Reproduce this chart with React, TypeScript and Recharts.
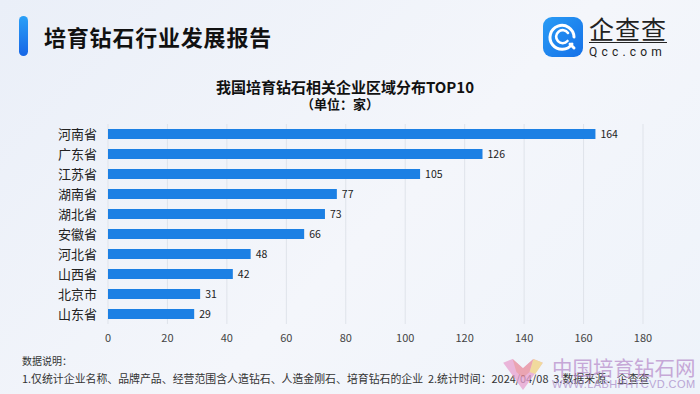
import { useEffect } from "react";
import { Bar, BarChart, CartesianGrid, LabelList, XAxis, YAxis } from "recharts";

const provinces = ["河南省", "广东省", "江苏省", "湖南省", "湖北省", "安徽省", "河北省", "山西省", "北京市", "山东省"];
const counts = [164, 126, 105, 77, 73, 66, 48, 42, 31, 29];
const xTicks = [0, 20, 40, 60, 80, 100, 120, 140, 160, 180];

const FONT = '"Noto Sans CJK SC", "Noto Sans", sans-serif';
const BAR_COLOR = "#1c80e4";

function Logo() {
  return (
    <div style={{ position: "absolute", left: 543, top: 16, display: "flex", alignItems: "center" }}>
      <svg width={40} height={40} viewBox="0 0 40 40">
        <defs>
          <linearGradient id="lg" x1="0" y1="0" x2="1" y2="1">
            <stop offset="0%" stopColor="#2a9cf5" />
            <stop offset="100%" stopColor="#1470e8" />
          </linearGradient>
        </defs>
        <rect x={0} y={0} width={40} height={40} rx={9} fill="url(#lg)" />
        <path d="M29 27 A12 12 0 1 1 31 20" fill="none" stroke="#fff" strokeWidth={3} strokeLinecap="round" />
        <path d="M24.5 24 A6.5 6.5 0 1 1 25 16" fill="none" stroke="#fff" strokeWidth={2.6} strokeLinecap="round" />
        <path d="M27 27 L31 31" stroke="#fff" strokeWidth={3} strokeLinecap="round" />
      </svg>
      <div style={{ marginLeft: 6, fontFamily: FONT, color: "#222", lineHeight: 1 }}>
        <div style={{ fontSize: 25, letterSpacing: 1, borderBottom: "1.5px solid #222", paddingBottom: 1 }}>企查查</div>
        <div style={{ fontSize: 12, letterSpacing: 4.2, marginTop: 3, fontFamily: "Roboto, sans-serif" }}>Qcc.com</div>
      </div>
    </div>
  );
}

function Watermark() {
  return (
    <div style={{ position: "absolute", left: 500, top: 357, opacity: 0.75, display: "flex", alignItems: "flex-start" }}>
      <svg width={46} height={34} viewBox="0 0 46 36">
        <polygon points="2,6 23,35 44,6 34,2 23,12 12,2" fill="#e8a0cf" />
        <polygon points="12,2 23,12 34,2 30,16 23,22 16,16" fill="#e98a9a" />
        <polygon points="30,16 34,2 44,6 36,18" fill="#f2d27e" />
      </svg>
      <div style={{ marginLeft: 6, lineHeight: 1, whiteSpace: "nowrap" }}>
        <div style={{ fontSize: 20.5, color: "#b98fcc" }}>中国培育钻石网</div>
        <div
          style={{
            fontSize: 11,
            color: "#a98cc9",
            fontFamily: '"Liberation Sans", sans-serif',
            marginTop: 1,
            letterSpacing: 0.4,
          }}
        >
          WWW.LABHPHTCVD.COM
        </div>
      </div>
    </div>
  );
}

export default function App() {
  useEffect(() => {
    document.body.style.margin = "0";
  }, []);

  const data = provinces.map((name, i) => ({ name, value: counts[i] }));

  return (
    <div
      style={{
        position: "relative",
        width: 700,
        height: 394,
        overflow: "hidden",
        fontFamily: FONT,
        background: "linear-gradient(135deg, #eaeff8 0%, #f4f6fb 55%, #eef3fa 100%)",
      }}
    >
      {/* header */}
      <div
        style={{
          position: "absolute",
          left: 19,
          top: 16,
          width: 9,
          height: 40,
          borderRadius: 5,
          background: "linear-gradient(180deg, #2aa0f7, #1766e6)",
        }}
      />
      <div
        style={{
          position: "absolute",
          left: 44,
          top: 23,
          fontSize: 22,
          lineHeight: "26px",
          fontWeight: 700,
          color: "#111",
          letterSpacing: 0.8,
        }}
      >
        培育钻石行业发展报告
      </div>
      <Logo />

      <div
        style={{
          position: "absolute",
          left: 0,
          width: 690,
          top: 79,
          lineHeight: "16px",
          textAlign: "center",
          fontSize: 15,
          fontWeight: 700,
          color: "#111",
        }}
      >
        我国培育钻石相关企业区域分布TOP10
      </div>
      <div
        style={{
          position: "absolute",
          left: 0,
          width: 680,
          top: 97,
          lineHeight: "14px",
          textAlign: "center",
          fontSize: 13,
          fontWeight: 700,
          color: "#111",
        }}
      >
        （单位：家）
      </div>

      <div style={{ position: "absolute", left: 0, top: 0 }}>
        <BarChart
          width={700}
          height={394}
          data={data}
          layout="vertical"
          margin={{ top: 124, right: 57, bottom: 0, left: 0 }}
          barCategoryGap={5}
        >
          <CartesianGrid horizontal={false} stroke="#dfe3ea" strokeWidth={1} />
          <XAxis
            type="number"
            domain={[0, 180]}
            ticks={xTicks}
            interval={0}
            height={70}
            axisLine={false}
            tickLine={false}
            tick={{ fill: "#444", fontSize: 11, fontFamily: FONT }}
            tickMargin={4}
          />
          <YAxis
            type="category"
            dataKey="name"
            width={108}
            interval={0}
            axisLine={false}
            tickLine={false}
            tick={{ fill: "#222", fontSize: 13, fontFamily: FONT }}
            tickMargin={5}
          />
          <Bar dataKey="value" fill={BAR_COLOR} barSize={10} isAnimationActive={false}>
            <LabelList dataKey="value" position="right" offset={5} fill="#222" fontSize={10.5} fontFamily={FONT} />
          </Bar>
        </BarChart>
      </div>

      {/* footer */}
      <div style={{ position: "absolute", left: 22, top: 354, fontSize: 10, lineHeight: "14px", color: "#333" }}>
        数据说明：
      </div>
      <div
        style={{
          position: "absolute",
          left: 22,
          top: 371,
          fontSize: 10.9,
          lineHeight: "14px",
          color: "#333",
          whiteSpace: "nowrap",
        }}
      >
        1.仅统计企业名称、品牌产品、经营范围含人造钻石、人造金刚石、培育钻石的企业&nbsp;&nbsp;2.统计时间：2024/04/08&nbsp;&nbsp;3.数据来源：企查查
      </div>
      <Watermark />
    </div>
  );
}
